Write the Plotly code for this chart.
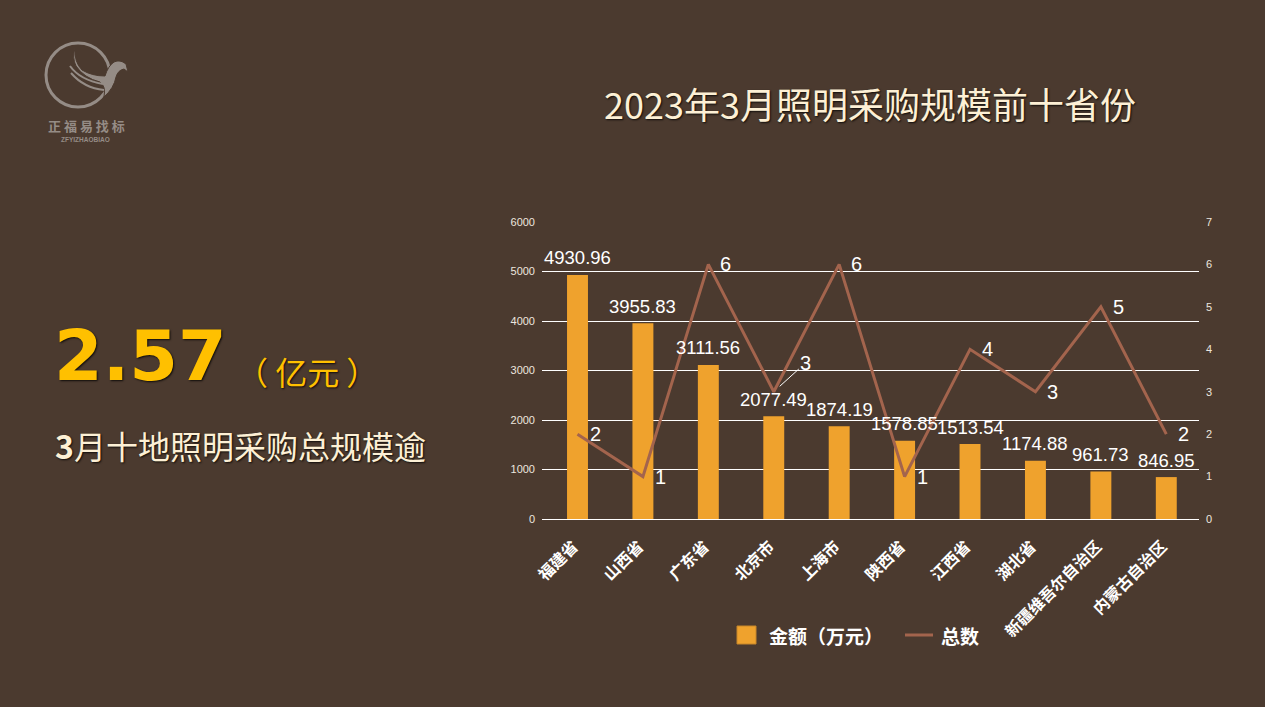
import plotly.graph_objects as go

# ---------------- data ----------------
provinces = ["福建省", "山西省", "广东省", "北京市", "上海市", "陕西省",
             "江西省", "湖北省", "新疆维吾尔自治区", "内蒙古自治区"]
amounts = [4930.96, 3955.83, 3111.56, 2077.49, 1874.19, 1578.85,
           1513.54, 1174.88, 961.73, 846.95]
counts = [2, 1, 6, 3, 6, 1, 4, 3, 5, 2]
left_ticks = [0, 1000, 2000, 3000, 4000, 5000, 6000]
right_ticks = [0, 1, 2, 3, 4, 5, 6, 7]

BG = "#4B3A2F"
BAR = "#EFA22D"
LINE = "#A3644D"
LOGO = "#958C86"
CJK = "Noto Sans CJK SC"
LAT = "Liberation Sans"

# plot area in pixels
W, H = 1265, 707
PL, PR, PT, PB = 542, 1199, 222, 519


def px(x):
    return (x - PL) / (PR - PL)


def py(y):
    return (PB - y) / (PB - PT)


fig = go.Figure()
fig.add_trace(go.Bar(
    x=provinces, y=amounts, name="金额（万元）",
    marker=dict(color=BAR, line=dict(width=0)), width=0.32,
    yaxis="y", showlegend=False,
))
fig.add_trace(go.Scatter(
    x=provinces, y=counts, name="总数", mode="lines",
    line=dict(color=LINE, width=3), yaxis="y2", showlegend=False,
))

ann = []
# bar value labels
for p, v in zip(provinces, amounts):
    ann.append(dict(x=p, y=v, xref="x", yref="y", text=f"{v:.2f}",
                    showarrow=False, yshift=17, xanchor="center", yanchor="middle",
                    font=dict(family=LAT, size=18.5, color="white")))
# line value labels
for p, c in zip(provinces, counts):
    if p == "北京市":
        ann.append(dict(x=p, y=c, xref="x", yref="y2", text=str(c),
                        showarrow=True, arrowhead=0, arrowwidth=1,
                        arrowcolor="white", ax=32, ay=-29,
                        xanchor="center", yanchor="middle", standoff=8,
                        font=dict(family=LAT, size=20, color="white")))
    else:
        ann.append(dict(x=p, y=c, xref="x", yref="y2", text=str(c),
                        showarrow=False, xanchor="left", yanchor="middle",
                        xshift=10,
                        font=dict(family=LAT, size=20, color="white")))

shadow = "1px 1px 2px rgba(0,0,0,0.8)"


def text_ann(x, y, text, font, xanchor="left"):
    return dict(x=px(x), y=py(y), xref="paper", yref="paper", text=text,
                showarrow=False, xanchor=xanchor, yanchor="middle", font=font)


# title
ann.append(text_ann(870, 103, "2023年3月照明采购规模前十省份",
                    dict(family=CJK, size=36, color="#FDF0D5", shadow=shadow),
                    "center"))
# left key figures
ann.append(text_ann(52, 356, "<b>2.57</b>",
                    dict(family="DejaVu Sans", size=70, color="#FFC000",
                         shadow=shadow)))
ann.append(text_ann(234, 371, "（ 亿元 ）",
                    dict(family=CJK, size=32, color="#FFC000", shadow=shadow)))
ann.append(text_ann(53, 445, "<b>3</b>月十地照明采购总规模逾",
                    dict(family=CJK, size=32, color="#FDF0D5", shadow=shadow)))
# logo texts
ann.append(text_ann(86, 125, "正 福 易 找 标",
                    dict(family=CJK, size=13, color=LOGO, weight="bold"), "center"))
ann.append(text_ann(85, 140, "<b>ZFYIZHAOBIAO</b>",
                    dict(family=LAT, size=6.5, color=LOGO), "center"))
# custom legend texts
ann.append(text_ann(767, 635, "金额（万元）",
                    dict(family=CJK, size=19, color="white", weight="bold")))
ann.append(text_ann(939, 635, "总数",
                    dict(family=CJK, size=19, color="white", weight="bold")))

wing = ("M {a} {b} Q {c} {d} {e} {f} Q {g} {h} {i} {j} Q {k} {l} {m} {n} "
        "Q {o} {p} {q} {r} L {s} {t} L {u} {v} Q {w} {x_} {y_} {z} "
        "Q {aa} {bb} {cc} {dd} Q {ee} {ff} {gg} {hh} Q {ii} {jj} {kk} {ll} "
        "Q {mm} {nn} {a} {b} Z").format(
    a=px(75), b=py(48), c=px(74), d=py(62), e=px(82), f=py(70),
    g=px(92), h=py(76), i=px(105), j=py(76),
    k=px(108), l=py(66), m=px(114), n=py(62),
    o=px(120), p=py(59), q=px(126), r=py(64),
    s=px(128), t=py(72), u=px(124), v=py(69),
    w=px(118), x_=py(70), y_=px(116), z=py(77),
    aa=px(114), bb=py(88), cc=px(104), dd=py(97),
    ee=px(106), ff=py(86), gg=px(100), hh=py(82),
    ii=px(84), jj=py(78), kk=px(76), ll=py(66),
    mm=px(72), nn=py(58))

shapes = [
    # logo circle
    dict(type="circle", xref="paper", yref="paper",
         x0=px(46), x1=px(110), y0=py(107), y1=py(43),
         line=dict(color=LOGO, width=3)),
    dict(type="path", xref="paper", yref="paper", path=wing,
         fillcolor=LOGO, line=dict(color=BG, width=1)),
    dict(type="path", xref="paper", yref="paper",
         path=f"M {px(70)} {py(66)} Q {px(80)} {py(80)} {px(103)} {py(84)}",
         line=dict(color=LOGO, width=2)),
    dict(type="path", xref="paper", yref="paper",
         path=f"M {px(71)} {py(73)} Q {px(84)} {py(88)} {px(104)} {py(90)}",
         line=dict(color=LOGO, width=2)),
    # custom legend symbols
    dict(type="rect", xref="paper", yref="paper",
         x0=px(737), x1=px(756), y0=py(644), y1=py(626),
         fillcolor=BAR, line=dict(color="#C7862A", width=1)),
    dict(type="line", xref="paper", yref="paper",
         x0=px(905), x1=px(933), y0=py(635), y1=py(635),
         line=dict(color=LINE, width=3)),
]

fig.update_layout(
    width=W, height=H,
    paper_bgcolor=BG, plot_bgcolor=BG,
    margin=dict(l=PL, r=W - PR, t=PT, b=H - PB),
    showlegend=False,
    xaxis=dict(tickangle=-45,
               tickfont=dict(family=CJK, size=16, color="white", weight="bold"),
               showgrid=False, showline=False, ticks="", zeroline=False,
               ticklabelstandoff=14, ticklabelshift=-4),
    yaxis=dict(range=[0, 6000], tickvals=left_ticks,
               tickfont=dict(family=LAT, size=11, color="#EDE6DF"),
               gridcolor="white", gridwidth=1, zeroline=True,
               zerolinecolor="white", zerolinewidth=1, showline=False,
               ticklabelstandoff=6),
    yaxis2=dict(range=[0, 7], tickvals=right_ticks, overlaying="y", side="right",
                tickfont=dict(family=LAT, size=11, color="#EDE6DF"),
                showgrid=False, zeroline=False, showline=False,
                ticklabelstandoff=6),
    annotations=ann,
    shapes=shapes,
)

fig.write_html(
    "out.html",
    config={"displayModeBar": False},
    post_script="document.body.style.margin='0';"
                "document.body.style.overflow='hidden';"
                "document.body.style.background='" + BG + "';",
)
